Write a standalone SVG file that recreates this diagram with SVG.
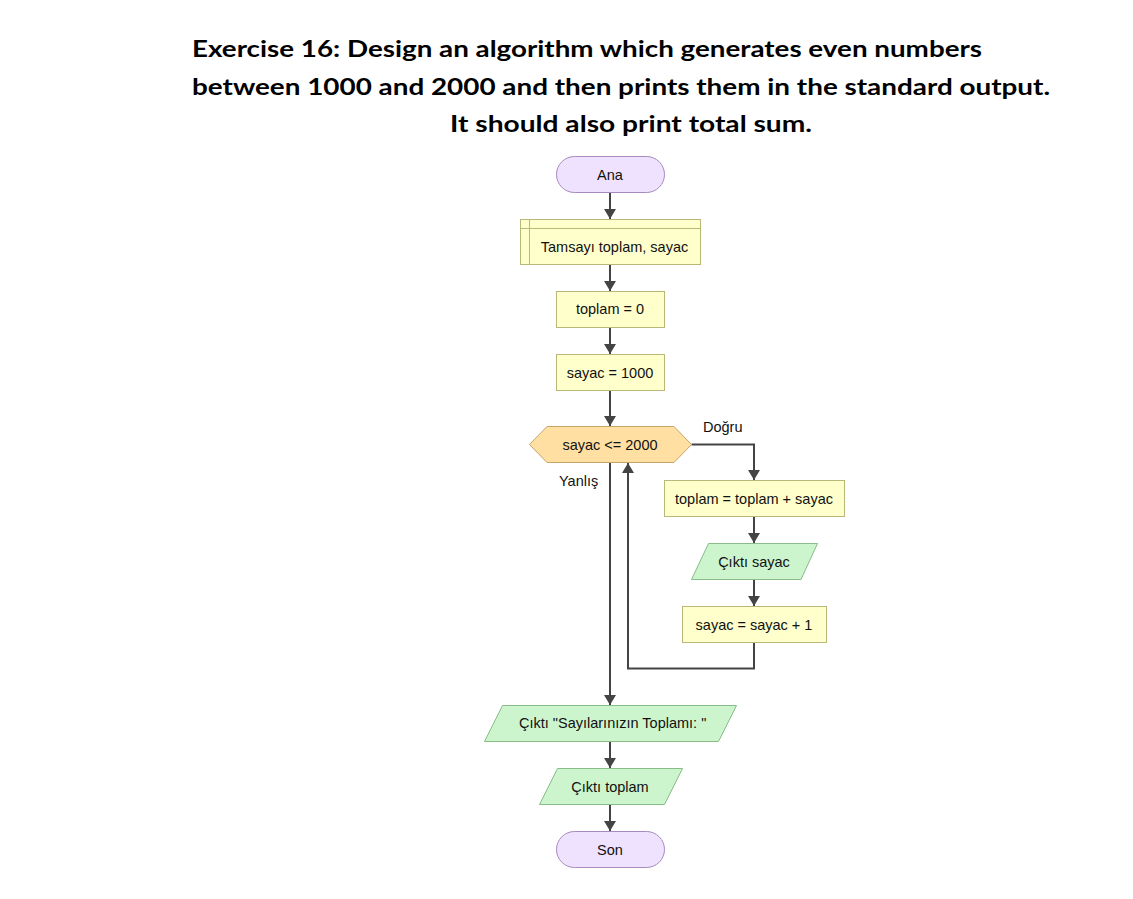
<svg xmlns="http://www.w3.org/2000/svg" width="1133" height="899" viewBox="0 0 1133 899">
<style>
.title{font-family:Lato,"Open Sans","Liberation Sans",sans-serif;font-weight:700;font-size:23px;fill:#000}
.t{font-family:"Liberation Sans",Arial,sans-serif;font-size:14.5px;fill:#111}
.c{text-anchor:middle}
.term{fill:#EEE2FF;stroke:#A88BBE;stroke-width:1}
.proc{fill:#FFFFCC;stroke:#B8B878;stroke-width:1}
.io{fill:#CDF5CD;stroke:#88BC88;stroke-width:1}
.dec{fill:#FFE0A2;stroke:#C4A468;stroke-width:1}
.edge{fill:none;stroke:#444;stroke-width:2}
</style>
<defs>
<marker id="arr" markerUnits="userSpaceOnUse" markerWidth="10" markerHeight="12" viewBox="0 0 10 12" refX="10" refY="6" orient="auto">
<path d="M0,0 L10,6 L0,12 z" fill="#444"/>
</marker>
</defs>
<rect width="1133" height="899" fill="#fff"/>
<g id="title">
<text class="title" x="192" y="57" textLength="790" lengthAdjust="spacingAndGlyphs">Exercise 16: Design an algorithm which generates even numbers</text>
<text class="title" x="192" y="95" textLength="858" lengthAdjust="spacingAndGlyphs">between 1000 and 2000 and then prints them in the standard output.</text>
<text class="title" x="450" y="132" textLength="362" lengthAdjust="spacingAndGlyphs">It should also print total sum.</text>
</g>
<g id="connectors">
<path class="edge" d="M610,192.5 V219" marker-end="url(#arr)"/>
<path class="edge" d="M610,264.5 V291" marker-end="url(#arr)"/>
<path class="edge" d="M610,327.5 V354" marker-end="url(#arr)"/>
<path class="edge" d="M610,390.5 V426" marker-end="url(#arr)"/>
<path class="edge" d="M691.5,444.5 H754 V480" marker-end="url(#arr)"/>
<path class="edge" d="M754,516.5 V543" marker-end="url(#arr)"/>
<path class="edge" d="M754,579.5 V606" marker-end="url(#arr)"/>
<path class="edge" d="M754,642.5 V668.5 H628 V463" marker-end="url(#arr)"/>
<path class="edge" d="M610,462.5 V705" marker-end="url(#arr)"/>
<path class="edge" d="M610,741 V768" marker-end="url(#arr)"/>
<path class="edge" d="M610,804.5 V831" marker-end="url(#arr)"/>
<text class="t" x="703" y="432">Doğru</text>
<text class="t" x="559" y="486">Yanlış</text>
</g>
<g id="n-ana">
<rect class="term" x="556.5" y="156.5" width="108" height="36" rx="18"/>
<text class="t c" x="610" y="179.5">Ana</text>
</g>
<g id="n-decl">
<rect class="proc" x="520.5" y="219.5" width="180" height="45"/>
<path class="proc" d="M529.5,219.5 V264.5 M520.5,228.5 H700.5" fill="none"/>
<text class="t c" x="614.5" y="252">Tamsayı toplam, sayac</text>
</g>
<g id="n-toplam0">
<rect class="proc" x="556.5" y="291.5" width="108" height="36"/>
<text class="t c" x="610" y="314">toplam = 0</text>
</g>
<g id="n-sayac1000">
<rect class="proc" x="556.5" y="354.5" width="108" height="36"/>
<text class="t c" x="610" y="377.5">sayac = 1000</text>
</g>
<g id="n-decision">
<path class="dec" d="M529.5,444.5 L547,426.5 H674 L691.5,444.5 L674,462.5 H547 Z"/>
<text class="t c" x="610" y="449.5">sayac &lt;= 2000</text>
</g>
<g id="n-toplamadd">
<rect class="proc" x="664.5" y="480.5" width="180" height="36"/>
<text class="t c" x="754" y="503.5">toplam = toplam + sayac</text>
</g>
<g id="n-ciktisayac">
<path class="io" d="M708.5,543.5 H817.5 L801,579.5 H691.5 Z"/>
<text class="t c" x="754" y="566.5">Çıktı sayac</text>
</g>
<g id="n-sayacinc">
<rect class="proc" x="682.5" y="606.5" width="144" height="36"/>
<text class="t c" x="754" y="629.5">sayac = sayac + 1</text>
</g>
<g id="n-ciktimsg">
<path class="io" d="M502.5,705.5 H736.5 L718.5,741.5 H484.5 Z"/>
<text class="t" x="519" y="728">Çıktı "Sayılarınızın Toplamı: "</text>
</g>
<g id="n-ciktitoplam">
<path class="io" d="M557.5,768.5 H682.5 L664.5,804.5 H539.5 Z"/>
<text class="t c" x="610" y="791.5">Çıktı toplam</text>
</g>
<g id="n-son">
<rect class="term" x="556.5" y="831.5" width="108" height="36" rx="18"/>
<text class="t c" x="610" y="854.5">Son</text>
</g>
</svg>
